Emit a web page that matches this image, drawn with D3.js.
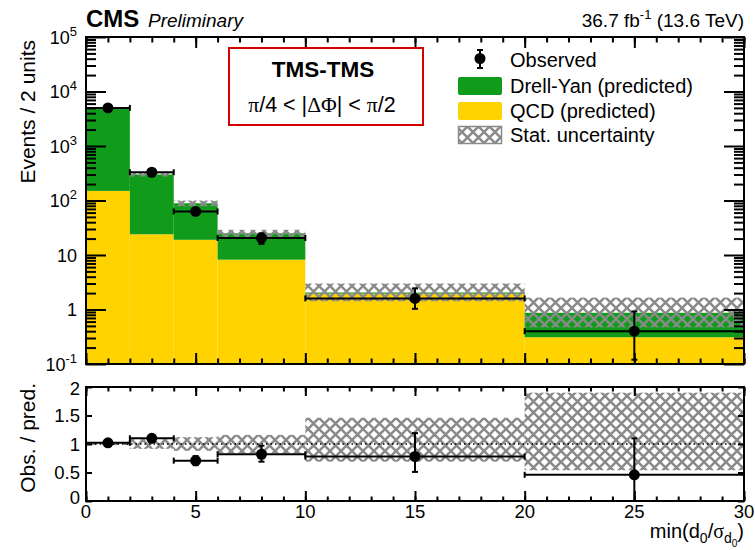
<!DOCTYPE html>
<html>
<head>
<meta charset="utf-8">
<script src="https://cdn.jsdelivr.net/npm/d3@7"></script>
<style>
  body { margin: 0; background: #fff; }
  text { font-family: "Liberation Sans", Arial, sans-serif; fill: #000; }
</style>
</head>
<body>
<div id="chart"></div>
<script>
// binning of min(d0/sigma_d0)
var binEdges = [0, 2, 4, 6, 10, 20, 30];

// predicted backgrounds (events / bin)
var qcdPred = [150, 24, 19, 8.2, 1.95, 0.31];
var dyPred = [4750, 276, 70, 16.8, 0.1, 0.56];

// relative stat. uncertainty on total prediction
var statUp = [0.02, 0.085, 0.12, 0.16, 0.46, 0.9];
var statDown = [0.02, 0.085, 0.12, 0.16, 0.31, 0.46];

// observed data
var observed = [5000, 330, 63, 20.5, 1.6, 0.4];
var obsErrUp = [71, 18, 8, 4.5, 0.84, 0.52];
var obsErrDown = [71, 18, 8, 4.5, 0.57, 0.28];

// ratio panel errors (obs / pred)
var ratioErrUp = [0.015, 0.05, 0.08, 0.15, 0.41, 0.64];
var ratioErrDown = [0.015, 0.05, 0.08, 0.13, 0.27, 0.46];

var yTickValues = [0.1, 1, 10, 100, 1000, 10000, 100000];
var yTickLabels = [["10", "-1"], ["1", ""], ["10", ""], ["10", "2"], ["10", "3"], ["10", "4"], ["10", "5"]];
var ratioTicks = [0, 0.5, 1, 1.5, 2];
var ratioTickLabels = ["0", "0.5", "1", "1.5", "2"];
var xTicks = [0, 5, 10, 15, 20, 25, 30];

var svgWidth = 755;
var svgHeight = 550;
var plotLeft = 86, plotRight = 744;
var topY0 = 37, topY1 = 364;
var ratY0 = 387, ratY1 = 501;

var green = "#119b1b";
var yellow = "#ffd300";
var hatchGrey = "#8a8a8a";

var svg = d3.select("#chart").append("svg")
  .attr("width", svgWidth)
  .attr("height", svgHeight);

var defs = svg.append("defs");
var pat = defs.append("pattern")
  .attr("id", "hatch")
  .attr("patternUnits", "userSpaceOnUse")
  .attr("width", 11)
  .attr("height", 11);
pat.append("path")
  .attr("d", "M-1,-1 L12,12 M-1,12 L12,-1")
  .attr("stroke", hatchGrey)
  .attr("stroke-width", 2.5)
  .attr("fill", "none");

defs.append("clipPath").attr("id", "clipTop").append("rect")
  .attr("x", plotLeft).attr("y", topY0).attr("width", plotRight - plotLeft).attr("height", topY1 - topY0);
defs.append("clipPath").attr("id", "clipRat").append("rect")
  .attr("x", plotLeft).attr("y", ratY0).attr("width", plotRight - plotLeft).attr("height", ratY1 - ratY0);

var x = d3.scaleLinear().domain([0, 30]).range([plotLeft, plotRight]);
var y = d3.scaleLog().domain([0.1, 1e5]).range([topY1, topY0]);
var yr = d3.scaleLinear().domain([0, 2]).range([ratY1, ratY0]);

var bins = binEdges.slice(0, -1).map(function(lo, i) {
  var pred = qcdPred[i] + dyPred[i];
  return {
    lo: lo, hi: binEdges[i + 1], mid: (lo + binEdges[i + 1]) / 2,
    qcd: qcdPred[i], pred: pred,
    obs: observed[i], up: obsErrUp[i], down: obsErrDown[i],
    sUp: statUp[i], sDown: statDown[i],
    ratio: observed[i] / pred, rUp: ratioErrUp[i], rDown: ratioErrDown[i]
  };
});

// ---------- top panel ----------
var mainPanel = svg.append("g").attr("clip-path", "url(#clipTop)");

mainPanel.selectAll(".qcd").data(bins).enter().append("rect")
  .attr("x", d => x(d.lo)).attr("width", d => x(d.hi) - x(d.lo))
  .attr("y", d => y(d.qcd)).attr("height", d => y(0.1) - y(d.qcd))
  .attr("fill", yellow);

mainPanel.selectAll(".dy").data(bins).enter().append("rect")
  .attr("x", d => x(d.lo)).attr("width", d => x(d.hi) - x(d.lo))
  .attr("y", d => y(d.pred)).attr("height", d => y(d.qcd) - y(d.pred))
  .attr("fill", green);

mainPanel.selectAll(".unc").data(bins).enter().append("rect")
  .attr("x", d => x(d.lo)).attr("width", d => x(d.hi) - x(d.lo))
  .attr("y", d => y(d.pred * (1 + d.sUp)))
  .attr("height", d => y(d.pred * (1 - d.sDown)) - y(d.pred * (1 + d.sUp)))
  .attr("fill", "url(#hatch)");

function drawPoints(g, data, xs, ys, val, up, down) {
  var cap = 3;
  data.forEach(function(d) {
    var cy = ys(val(d));
    var cx = xs(d.mid);
    g.append("line").attr("x1", xs(d.lo)).attr("x2", xs(d.hi)).attr("y1", cy).attr("y2", cy)
      .attr("stroke", "#000").attr("stroke-width", 2);
    [d.lo, d.hi].forEach(function(e) {
      g.append("line").attr("x1", xs(e)).attr("x2", xs(e)).attr("y1", cy - cap).attr("y2", cy + cap)
        .attr("stroke", "#000").attr("stroke-width", 2);
    });
    var yt = ys(val(d) + up(d)), yb = ys(Math.max(val(d) - down(d), 1e-9));
    g.append("line").attr("x1", cx).attr("x2", cx).attr("y1", yt).attr("y2", yb)
      .attr("stroke", "#000").attr("stroke-width", 2);
    [yt, yb].forEach(function(e) {
      g.append("line").attr("x1", cx - cap).attr("x2", cx + cap).attr("y1", e).attr("y2", e)
        .attr("stroke", "#000").attr("stroke-width", 2);
    });
    g.append("circle").attr("cx", cx).attr("cy", cy).attr("r", 5.5).attr("fill", "#000");
  });
}

drawPoints(mainPanel, bins, x, y, d => d.obs, d => d.up, d => d.down);

// ---------- ratio panel ----------
var ratPanel = svg.append("g").attr("clip-path", "url(#clipRat)");

ratPanel.selectAll(".runc").data(bins).enter().append("rect")
  .attr("x", d => x(d.lo)).attr("width", d => x(d.hi) - x(d.lo))
  .attr("y", d => yr(1 + d.sUp)).attr("height", d => yr(1 - d.sDown) - yr(1 + d.sUp))
  .attr("fill", "url(#hatch)");

ratPanel.append("line")
  .attr("x1", plotLeft).attr("x2", plotRight).attr("y1", yr(1)).attr("y2", yr(1))
  .attr("stroke", "#000").attr("stroke-width", 1.5).attr("stroke-dasharray", "1.5,3");

drawPoints(ratPanel, bins, x, yr, d => d.ratio, d => d.rUp, d => d.rDown);

// ---------- axes / ticks (ROOT style, inward) ----------
function tickAxis(axisFn, scale, values, size, transform) {
  svg.append("g")
    .attr("transform", transform)
    .call(axisFn(scale).tickValues(values).tickSize(size).tickFormat(""))
    .call(g => g.select(".domain").remove())
    .call(g => g.selectAll(".tick line").attr("stroke", "#000").attr("stroke-width", 2));
}

var xMinor = d3.range(0, 31, 1);
// top panel x ticks
tickAxis(d3.axisBottom, x, xMinor, -5.5, `translate(0,${topY1})`);
tickAxis(d3.axisBottom, x, xTicks, -11, `translate(0,${topY1})`);
tickAxis(d3.axisTop, x, xMinor, -5.5, `translate(0,${topY0})`);
tickAxis(d3.axisTop, x, xTicks, -11, `translate(0,${topY0})`);
// ratio panel x ticks
tickAxis(d3.axisBottom, x, xMinor, -4.5, `translate(0,${ratY1})`);
tickAxis(d3.axisBottom, x, xTicks, -10, `translate(0,${ratY1})`);
tickAxis(d3.axisTop, x, xMinor, -4.5, `translate(0,${ratY0})`);
tickAxis(d3.axisTop, x, xTicks, -9, `translate(0,${ratY0})`);

// log y ticks
var yMinor = [];
[0.1, 1, 10, 100, 1000, 10000].forEach(function(dec) {
  for (var k = 2; k <= 9; k++) yMinor.push(dec * k);
});
tickAxis(d3.axisLeft, y, yMinor, -10, `translate(${plotLeft},0)`);
tickAxis(d3.axisLeft, y, yTickValues, -20, `translate(${plotLeft},0)`);
tickAxis(d3.axisRight, y, yMinor, -10, `translate(${plotRight},0)`);
tickAxis(d3.axisRight, y, yTickValues, -20, `translate(${plotRight},0)`);
// ratio y ticks
tickAxis(d3.axisLeft, yr, ratioTicks, -6, `translate(${plotLeft},0)`);
tickAxis(d3.axisRight, yr, ratioTicks, -6, `translate(${plotRight},0)`);

// frames
[[topY0, topY1], [ratY0, ratY1]].forEach(function(p) {
  svg.append("rect")
    .attr("x", plotLeft).attr("y", p[0]).attr("width", plotRight - plotLeft).attr("height", p[1] - p[0])
    .attr("fill", "none").attr("stroke", "#000").attr("stroke-width", 2);
});

// tick labels
yTickValues.forEach(function(v, i) {
  var t = svg.append("text").attr("x", 77).attr("y", y(v) + 6.5)
    .attr("text-anchor", "end").style("font-size", "18px");
  t.append("tspan").text(yTickLabels[i][0]);
  if (yTickLabels[i][1]) {
    t.append("tspan").attr("dy", -8).style("font-size", "13px").text(yTickLabels[i][1]);
  }
});

ratioTicks.forEach(function(v, i) {
  svg.append("text").attr("x", 80).attr("y", yr(v) + 6.5 - (v === 0 ? 4 : 0) + (v === 2 ? 1 : 0))
    .attr("text-anchor", "end").style("font-size", "18.5px").text(ratioTickLabels[i]);
});

xTicks.forEach(function(v) {
  svg.append("text").attr("x", x(v)).attr("y", 518)
    .attr("text-anchor", "middle").style("font-size", "18.5px").text(v);
});

// axis titles
svg.append("text")
  .attr("transform", "translate(35,40) rotate(-90)")
  .attr("text-anchor", "end").style("font-size", "21px")
  .text("Events / 2 units");

svg.append("text")
  .attr("transform", "translate(35,383) rotate(-90)")
  .attr("text-anchor", "end").style("font-size", "21px")
  .text("Obs. / pred.");

var xl = svg.append("text").attr("x", 744).attr("y", 538)
  .attr("text-anchor", "end").style("font-size", "20px");
xl.append("tspan").text("min(d");
xl.append("tspan").attr("dy", 5).style("font-size", "14px").text("0");
xl.append("tspan").attr("dy", -5).text("/");
xl.append("tspan").style("font-family", "'Liberation Serif', serif").text("σ");
xl.append("tspan").attr("dy", 5).style("font-size", "14px").text("d");
xl.append("tspan").attr("dy", 4).style("font-size", "10px").text("0");
xl.append("tspan").attr("dy", -9).text(")");

// header
svg.append("text").attr("x", 86).attr("y", 27)
  .style("font-size", "24px").style("font-weight", "bold").text("CMS");
svg.append("text").attr("x", 148).attr("y", 27)
  .style("font-size", "19px").style("font-style", "italic").text("Preliminary");

var lumi = svg.append("text").attr("x", 744).attr("y", 27)
  .attr("text-anchor", "end").style("font-size", "19px");
lumi.append("tspan").text("36.7 fb");
lumi.append("tspan").attr("dy", -8).style("font-size", "13px").text("-1");
lumi.append("tspan").attr("dy", 8).text(" (13.6 TeV)");

// category box
svg.append("rect").attr("x", 229).attr("y", 48).attr("width", 194).attr("height", 77)
  .attr("fill", "#fff").attr("stroke", "#d40000").attr("stroke-width", 2);
svg.append("text").attr("x", 323).attr("y", 77).attr("text-anchor", "middle")
  .style("font-size", "22.5px").style("font-weight", "bold").text("TMS-TMS");
var cat = svg.append("text").attr("x", 322).attr("y", 112).attr("text-anchor", "middle")
  .style("font-size", "21.5px");
var serif = "'Liberation Serif', serif";
cat.append("tspan").style("font-family", serif).text("π");
cat.append("tspan").text("/4 < |");
cat.append("tspan").style("font-family", serif).text("ΔΦ");
cat.append("tspan").text("| < ");
cat.append("tspan").style("font-family", serif).text("π");
cat.append("tspan").text("/2");

// legend
var lg = svg.append("g");
lg.append("line").attr("x1", 480).attr("x2", 480).attr("y1", 50).attr("y2", 68)
  .attr("stroke", "#000").attr("stroke-width", 2);
[50, 68].forEach(function(e) {
  lg.append("line").attr("x1", 477).attr("x2", 483).attr("y1", e).attr("y2", e)
    .attr("stroke", "#000").attr("stroke-width", 2);
});
lg.append("circle").attr("cx", 480).attr("cy", 58.5).attr("r", 5.5).attr("fill", "#000");

var legendBoxes = [[green, 77], [yellow, 102], ["url(#hatch)", 126]];
legendBoxes.forEach(function(b) {
  lg.append("rect").attr("x", 458).attr("y", b[1]).attr("width", 44).attr("height", 18)
    .attr("rx", 2).attr("fill", b[0]);
});
lg.append("rect").attr("x", 458.5).attr("y", 126.5).attr("width", 43).attr("height", 17)
  .attr("fill", "none").attr("stroke", hatchGrey).attr("stroke-width", 1.5);
var legendText = ["Observed", "Drell-Yan (predicted)", "QCD (predicted)", "Stat. uncertainty"];
var legendBase = [66.5, 92.5, 117.5, 142];
legendText.forEach(function(t, i) {
  lg.append("text").attr("x", 510).attr("y", legendBase[i]).style("font-size", "20px").text(t);
});
</script>
</body>
</html>
